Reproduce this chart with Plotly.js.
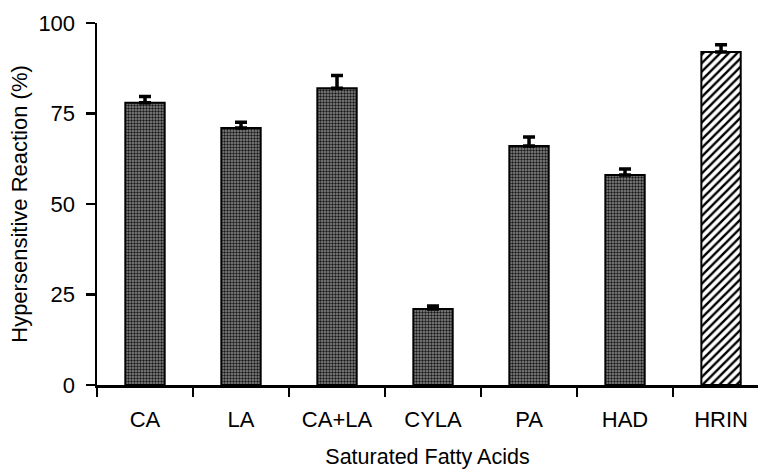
<!DOCTYPE html>
<html>
<head>
<meta charset="utf-8">
<script src="https://cdn.plot.ly/plotly-3.0.1.min.js"></script>
<style>html,body{margin:0;padding:0;background:#fff;}#chart{width:758px;height:469px;}</style>
</head>
<body>
<div id="chart"></div>
<script>
const categories = ["CA", "LA", "CA+LA", "CYLA", "PA", "HAD", "HRIN"];
const values = [78, 71, 82, 21, 66, 58, 92];
const errors = [1.7, 1.6, 3.5, 0.8, 2.5, 1.7, 2.0];
// first six are fatty acids (dotted fill), last one is the HRIN reference (hatched fill)
const acidCount = 6;

function barTrace(xs, ys, es, pattern) {
  return {
    type: "bar",
    x: xs, y: ys,
    width: 0.41,
    marker: {
      color: pattern.bgcolor,
      line: {color: "#000", width: 2},
      pattern: pattern
    },
    error_y: {type: "data", symmetric: false, array: es, arrayminus: es.map(() => 0), color: "#000", thickness: 3.5, width: 6},
    hoverinfo: "skip"
  };
}

const traces = [
  barTrace(categories.slice(0, acidCount), values.slice(0, acidCount), errors.slice(0, acidCount),
    {shape: ".", bgcolor: "#8c8c8c", fgcolor: "#1a1a1a", size: 3, solidity: 0.5, fillmode: "replace"}),
  barTrace(categories.slice(acidCount), values.slice(acidCount), errors.slice(acidCount),
    {shape: "/", bgcolor: "#ffffff", fgcolor: "#000000", size: 6, solidity: 0.4, fillmode: "replace"})
];

const layout = {
  width: 758, height: 469,
  margin: {l: 97, r: 0, t: 23, b: 84},
  paper_bgcolor: "#fff", plot_bgcolor: "#fff",
  font: {family: "Liberation Sans, Arial, sans-serif", color: "#000"},
  showlegend: false,
  barmode: "overlay",
  xaxis: {
    type: "category",
    categoryorder: "array", categoryarray: categories,
    range: [-0.5, 6.385],
    showline: true, linecolor: "#000", linewidth: 2.5,
    ticks: "outside", tickson: "boundaries", ticklen: 9, tickwidth: 2.5, tickcolor: "#000",
    tickfont: {size: 22}, ticklabelstandoff: 13,
    showgrid: false, zeroline: false,
    title: {text: "Saturated Fatty Acids", font: {size: 21.5}, standoff: 18}
  },
  yaxis: {
    range: [0, 100],
    tickvals: [0, 25, 50, 75, 100],
    showline: true, linecolor: "#000", linewidth: 2.5,
    ticks: "outside", ticklen: 9, tickwidth: 2.5, tickcolor: "#000",
    tickfont: {size: 22}, ticklabelstandoff: 6,
    showgrid: false, zeroline: false,
    title: {text: "Hypersensitive Reaction (%)", font: {size: 22}, standoff: 5}
  }
};

Plotly.newPlot("chart", traces, layout, {staticPlot: true, displayModeBar: false});
</script>
</body>
</html>
